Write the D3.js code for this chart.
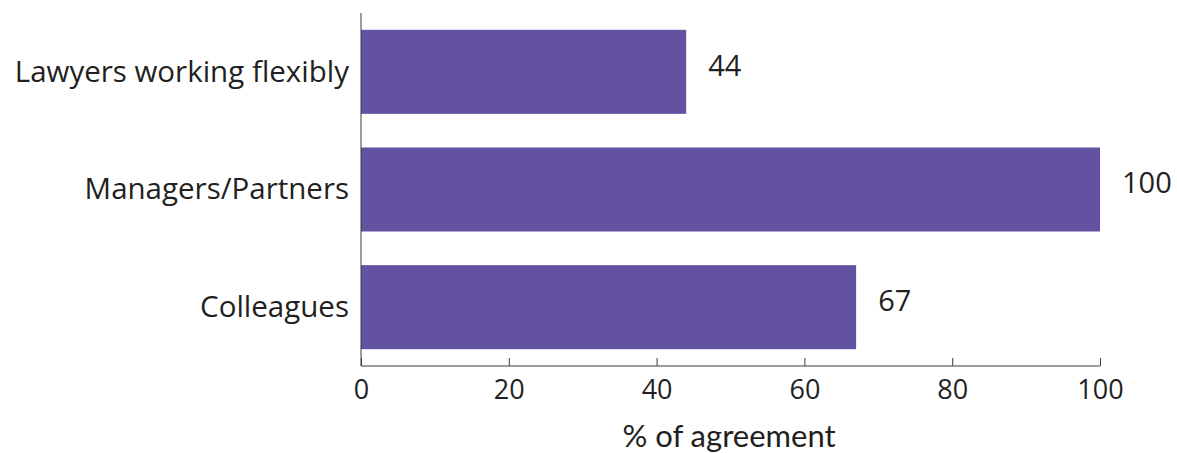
<!DOCTYPE html>
<html>
<head>
<meta charset="utf-8">
<script src="https://cdn.jsdelivr.net/npm/d3@7"></script>
<style>
  body { margin: 0; background: #fff; }
  svg text { font-family: "Open Sans", "Noto Sans", sans-serif; fill: #231f20; }
</style>
</head>
<body>
<div id="chart"></div>
<script>
// data
const categories = ["Lawyers working flexibly", "Managers/Partners", "Colleagues"];
const values = [44, 100, 67];
const xTicks = [0, 20, 40, 60, 80, 100];
const xTitle = "% of agreement";

const width = 1177, height = 453;
const margin = {top: 13, right: 77, bottom: 87, left: 361};

const svg = d3.select("#chart").append("svg")
    .attr("width", width)
    .attr("height", height);

const x = d3.scaleLinear()
    .domain([0, 100])
    .range([margin.left, width - margin.right]);

const y = d3.scaleBand()
    .domain(categories)
    .range([margin.top, height - margin.bottom])
    .paddingInner(0.286)
    .paddingOuter(0.143);

// bars
svg.append("g")
  .selectAll("rect")
  .data(categories)
  .join("rect")
    .attr("x", x(0))
    .attr("y", d => y(d))
    .attr("width", (d, i) => x(values[i]) - x(0))
    .attr("height", y.bandwidth())
    .attr("fill", "#6351a2");

// value labels
svg.append("g")
  .selectAll("text")
  .data(categories)
  .join("text")
    .attr("x", (d, i) => x(values[i]) + 22)
    .attr("y", d => y(d) + y.bandwidth() / 2 - 4)
    .attr("dominant-baseline", "middle")
    .attr("font-size", 29)
    .text((d, i) => values[i]);

// category labels
svg.append("g")
  .selectAll("text")
  .data(categories)
  .join("text")
    .attr("x", margin.left - 12)
    .attr("y", d => y(d) + y.bandwidth() / 2 + 2)
    .attr("text-anchor", "end")
    .attr("dominant-baseline", "middle")
    .attr("font-size", 29.5)
    .text(d => d);

// x axis
const xAxis = svg.append("g")
    .attr("transform", `translate(0,${height - margin.bottom})`)
    .call(d3.axisBottom(x).tickValues(xTicks).tickSize(-8).tickPadding(14));
xAxis.select(".domain").attr("stroke", "#3a3a3a").attr("d", `M${x(0)},0H${x(100)}`);
xAxis.selectAll(".tick line").attr("stroke", "#3a3a3a");
xAxis.selectAll(".tick text")
    .attr("font-size", 27)
    .attr("font-family", "'Open Sans', 'Noto Sans', sans-serif")
    .attr("fill", "#231f20");

// y axis line
svg.append("line")
    .attr("x1", x(0)).attr("x2", x(0))
    .attr("y1", margin.top).attr("y2", height - margin.bottom)
    .attr("stroke", "#3a3a3a");

// x title
svg.append("text")
    .attr("x", 729)
    .attr("y", 447)
    .attr("text-anchor", "middle")
    .attr("font-size", 31)
    .style("font-family", "Lato, 'Noto Sans', sans-serif")
    .text(xTitle);
</script>
</body>
</html>
